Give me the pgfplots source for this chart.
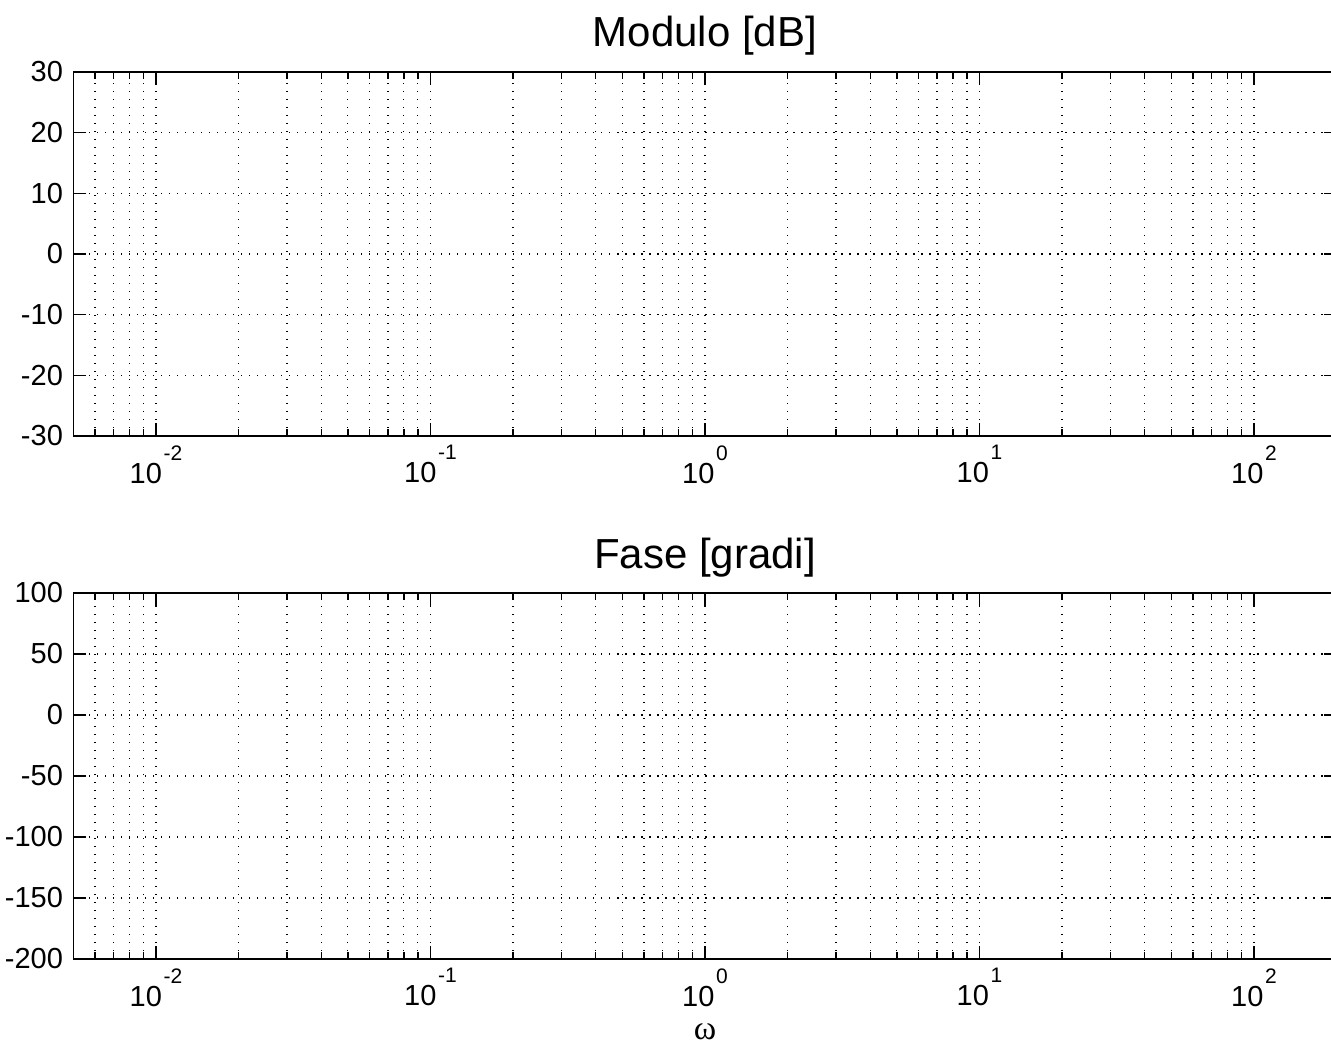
\documentclass[border=0pt]{standalone}
\usepackage{pgfplots}
\pgfplotsset{compat=1.18}
\usepackage{fontspec}
\setmainfont{Liberation Sans}
\newfontfamily\serifw{Liberation Serif}
\newcommand{\dec}[1]{10\kern0.8pt\raisebox{11.5pt}{\fontsize{10.5}{10.5}\selectfont #1}}
\begin{document}
\begin{tikzpicture}
\useasboundingbox (0,0) rectangle (665.5pt,522pt);
\begin{axis}[
  scale only axis,
  anchor=south west,
  at={(36.65pt,304pt)},
  width=631.65pt, height=182pt,
  xmode=log,
  xmin=0.005, xmax=200,
  ymin=-30, ymax=30,
  xtick={0.01,0.1,1,10,100},
  xticklabels={\dec{-2},\dec{-1},\dec{0},\dec{1},\dec{2}},
  minor xtick={0.006,0.007,0.008,0.009,0.02,0.03,0.04,0.05,0.06,0.07,0.08,0.09,0.2,0.3,0.4,0.5,0.6,0.7,0.8,0.9,2,3,4,5,6,7,8,9,20,30,40,50,60,70,80,90},
  ytick={-30,-20,-10,0,10,20,30},
  yticklabels={-30,-20,-10,0,10,20,30},
  xmajorgrids, xminorgrids, ymajorgrids,
  major grid style={black, line width=0.6pt, dash pattern=on 0.6pt off 3.4pt},
  minor grid style={black, line width=0.6pt, dash pattern=on 0.6pt off 3.4pt},
  axis line style={black, line width=0.7pt},
  major tick style={black, line width=0.7pt},
  minor tick style={black, line width=0.7pt},
  major tick length=6.5pt,
  minor tick length=3.5pt,
  tick align=inside,
  tick label style={font=\fontsize{14.5}{14.5}\selectfont, inner sep=0pt},
  xticklabel style={anchor=north},
  yticklabel style={anchor=east},
  xticklabel shift=4.5pt,
  yticklabel shift=5pt,
  title style={at={(0.5,1)}, anchor=base, yshift=6.5pt, font=\fontsize{21}{21}\selectfont, inner sep=0pt},
  title={Modulo [dB]}]
\addplot[draw=none] coordinates {(0.005,0) (200,0)};
\end{axis}
\begin{axis}[
  scale only axis,
  anchor=south west,
  at={(36.65pt,42.5pt)},
  width=631.65pt, height=183pt,
  xmode=log,
  xmin=0.005, xmax=200,
  ymin=-200, ymax=100,
  xtick={0.01,0.1,1,10,100},
  xticklabels={\dec{-2},\dec{-1},\dec{0},\dec{1},\dec{2}},
  minor xtick={0.006,0.007,0.008,0.009,0.02,0.03,0.04,0.05,0.06,0.07,0.08,0.09,0.2,0.3,0.4,0.5,0.6,0.7,0.8,0.9,2,3,4,5,6,7,8,9,20,30,40,50,60,70,80,90},
  ytick={-200,-150,-100,-50,0,50,100},
  yticklabels={-200,-150,-100,-50,0,50,100},
  xmajorgrids, xminorgrids, ymajorgrids,
  major grid style={black, line width=0.6pt, dash pattern=on 0.6pt off 3.4pt},
  minor grid style={black, line width=0.6pt, dash pattern=on 0.6pt off 3.4pt},
  axis line style={black, line width=0.7pt},
  major tick style={black, line width=0.7pt},
  minor tick style={black, line width=0.7pt},
  major tick length=6.5pt,
  minor tick length=3.5pt,
  tick align=inside,
  tick label style={font=\fontsize{14.5}{14.5}\selectfont, inner sep=0pt},
  xticklabel style={anchor=north},
  yticklabel style={anchor=east},
  xticklabel shift=4.5pt,
  yticklabel shift=5pt,
  title style={at={(0.5,1)}, anchor=base, yshift=6.5pt, font=\fontsize{21}{21}\selectfont, inner sep=0pt},
  title={Fase [gradi]},
  xlabel={{\serifw ω}},
  xlabel style={at={(0.5,0)}, anchor=base, yshift=-40pt, font=\fontsize{17}{17}\selectfont, inner sep=0pt}]
\addplot[draw=none] coordinates {(0.005,0) (200,0)};
\end{axis}
\end{tikzpicture}
\end{document}
